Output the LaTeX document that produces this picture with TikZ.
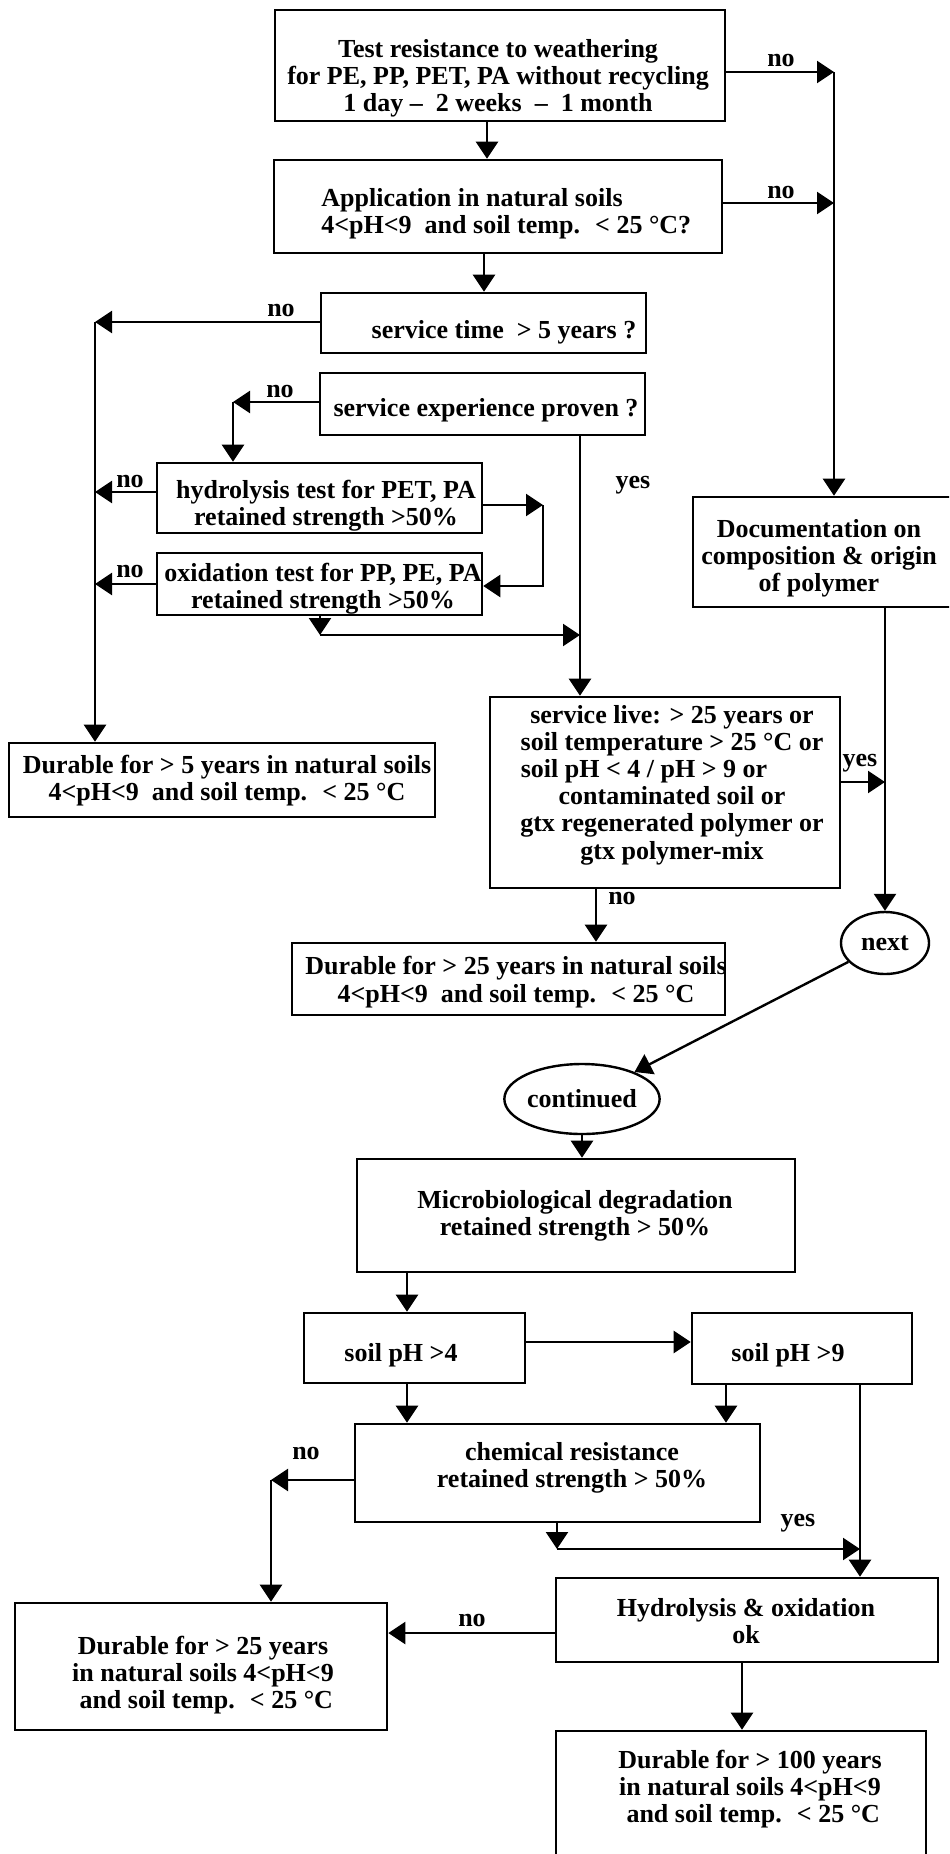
\documentclass[tikz,border=0pt]{standalone}
\usepackage{fontspec}
\setmainfont{Liberation Serif}
\usetikzlibrary{arrows.meta,shapes.geometric}
\tikzset{
  bx/.style={draw, line width=1.3pt, inner sep=0pt},
  txt/.style={align=center, inner sep=0pt, font=\fontsize{13}{13.6}\selectfont\bfseries},
  lab/.style={inner sep=0pt, font=\fontsize{13}{13.6}\selectfont\bfseries},
  ell/.style={draw, ellipse, line width=1.2pt, inner sep=0pt, font=\fontsize{13}{13.6}\selectfont\bfseries},
  arr/.style={line width=1.2pt, -{Triangle[length=8.5pt,width=11pt]}},
  ln/.style={line width=1.2pt}
}
\newcommand\fbx[5]{\node[bx, minimum width={(#4-(#2))*0.5pt}, minimum height={(#5-(#3))*0.5pt}] (#1) at ({(#2+#4)/2},{(#3+#5)/2}) {};}
\begin{document}
\begin{tikzpicture}[x=0.5pt,y=-0.5pt]
\clip (0,0) rectangle (949,1854);
\fill[white] (0,0) rectangle (949,1854);
% boxes
\fbx{b1}{275}{10}{725}{121}
\fbx{b2}{274}{160}{722}{253}
\fbx{b3}{321}{293}{646}{353}
\fbx{b4}{320}{373}{645}{435}
\fbx{b5}{157}{463}{482}{533}
\fbx{b6}{157}{553}{482}{615}
\fbx{d5}{9}{743}{435}{817}
\fbx{doc}{693}{497}{975}{607}
\fbx{sl}{490}{697}{840}{888}
\fbx{d25}{292}{943}{725}{1015}
\fbx{micro}{357}{1159}{795}{1272}
\fbx{ph4}{304}{1313}{525}{1383}
\fbx{ph9}{692}{1313}{912}{1384}
\fbx{chem}{355}{1424}{760}{1522}
\fbx{hyd}{556}{1578}{938}{1662}
\fbx{d25b}{15}{1603}{387}{1730}
\fbx{d100}{556}{1731}{926}{1880}
\node[ell, minimum width=44pt, minimum height=31pt] (next) at (885,943) {next};
\node[ell, minimum width=76pt, minimum height=35pt] (cont) at (582,1099) {continued};
% texts
\node[txt] (t1) at (498,78) {Test resistance to weathering\\for PE, PP, PET, PA without recycling\\1 day -- \ 2 weeks \ -- \ 1 month};
\node[txt, align=left, anchor=west] (t2) at (321,214) {Application in natural soils\\4<pH<9 \ and soil temp. \ < 25 °C?};
\node[txt] (t3) at (504,332) {service time \ > 5 years ?};
\node[txt] (t4) at (486,410) {service experience proven ?};
\node[txt] (t5) at (326,506) {hydrolysis test for PET, PA\\retained strength >50\%};
\node[txt] (t6) at (323,589) {oxidation test for PP, PE, PA\\retained strength >50\%};
\node[txt] (td5) at (227,781) {Durable for > 5 years in natural soils\\4<pH<9 \ and soil temp. \ < 25 °C};
\node[txt] (tdoc) at (819,558) {Documentation on\\composition \& origin\\of polymer};
\node[txt] (tsl) at (672,785) {service live: > 25 years or\\soil temperature > 25 °C or\\soil pH < 4 / pH > 9 or\rule{28pt}{0pt}\\contaminated soil or\\gtx regenerated polymer or\\gtx polymer-mix};
\node[txt] (td25) at (516,982) {Durable for > 25 years in natural soils\\4<pH<9 \ and soil temp. \ < 25 °C};
\node[txt] (tmicro) at (575,1216) {Microbiological degradation\\retained strength > 50\%};
\node[txt] (tph4) at (401,1355) {soil pH >4};
\node[txt] (tph9) at (788,1355) {soil pH >9};
\node[txt] (tchem) at (572,1468) {chemical resistance\\retained strength > 50\%};
\node[txt] (thyd) at (746,1621) {Hydrolysis \& oxidation\\ok};
\node[txt] (td25b) at (203,1675) {Durable for > 25 years\\in natural soils 4<pH<9\\ \ and soil temp. \ < 25 °C};
\node[txt] (td100) at (750,1789) {Durable for > 100 years\\in natural soils 4<pH<9\\ \ and soil temp. \ < 25 °C};
% helper coordinates
\coordinate (X487) at (487,0);
\coordinate (X484) at (484,0);
\coordinate (J1) at (834,72);
\coordinate (J2) at (834,203);
\coordinate (L1) at (95,322);
\coordinate (L2) at (233,402);
\coordinate (Y492) at (0,492);
\coordinate (Y583) at (0,584);
\coordinate (R1) at (543,505);
\coordinate (R2) at (543,586);
\coordinate (D1) at (320,635);
\coordinate (V1) at (580,0);
\coordinate (Y782) at (0,782);
\coordinate (X596) at (596,0);
\coordinate (X407) at (407,0);
\coordinate (Y1342) at (0,1342);
\coordinate (X726) at (726,0);
\coordinate (X860) at (860,0);
\coordinate (L3) at (271,1480);
\coordinate (D2) at (557,1549);
\coordinate (Y1633) at (0,1633);
\coordinate (X742) at (742,0);
% connectors
\draw[arr] (b1.south -| X487) -- (b2.north -| X487);
\draw[arr] (b1.east |- J1) -- (J1);
\draw[arr] (b2.east |- J2) -- (J2);
\draw[arr] (J1) -- (doc.north);
\draw[arr] (b2.south -| X484) -- (b3.north -| X484);
\draw[arr] (b3.west |- L1) -- (L1);
\draw[arr] (L1) -- (d5.north -| L1);
\draw[arr] (b4.west |- L2) -- (L2);
\draw[arr] (L2) -- (b5.north -| L2);
\draw[arr] (b5.west |- Y492) -- (L1 |- Y492);
\draw[arr] (b6.west |- Y583) -- (L1 |- Y583);
\draw[arr] (b5.east |- R1) -- (R1);
\draw[arr] (R1) -- (R2) -- (b6.east |- R2);
\draw[arr] (b6.south -| D1) -- (D1);
\draw[arr] (D1) -- (V1 |- D1);
\draw[arr] (b4.south -| V1) -- (sl.north -| V1);
\draw[arr] (next.north |- doc.south) -- (next.north);
\draw[arr] (sl.east |- Y782) -- (next.north |- Y782);
\draw[arr] (sl.south -| X596) -- (d25.north -| X596);
\draw[arr] (next) -- (cont);
\draw[arr] (cont.south) -- (micro.north -| cont.south);
\draw[arr] (micro.south -| X407) -- (ph4.north -| X407);
\draw[arr] (ph4.east |- Y1342) -- (ph9.west |- Y1342);
\draw[arr] (ph4.south -| X407) -- (chem.north -| X407);
\draw[arr] (ph9.south -| X726) -- (chem.north -| X726);
\draw[arr] (ph9.south -| X860) -- (hyd.north -| X860);
\draw[arr] (chem.west |- L3) -- (L3);
\draw[arr] (L3) -- (d25b.north -| L3);
\draw[arr] (chem.south -| D2) -- (D2);
\draw[arr] (D2) -- (X860 |- D2);
\draw[arr] (hyd.west |- Y1633) -- (d25b.east |- Y1633);
\draw[arr] (hyd.south -| X742) -- (d100.north -| X742);
% labels
\node[lab] (n1) at (781,60) {no};
\node[lab] (n2) at (781,192) {no};
\node[lab] (n3) at (281,310) {no};
\node[lab] (n4) at (280,391) {no};
\node[lab] (n5) at (130,481) {no};
\node[lab] (n6) at (130,571) {no};
\node[lab] (y1) at (633,485) {yes};
\node[lab] (y2) at (860,763) {yes};
\node[lab] (n7) at (622,898) {no};
\node[lab] (n8) at (306,1453) {no};
\node[lab] (y3) at (798,1523) {yes};
\node[lab] (n9) at (472,1620) {no};
\end{tikzpicture}
\end{document}
